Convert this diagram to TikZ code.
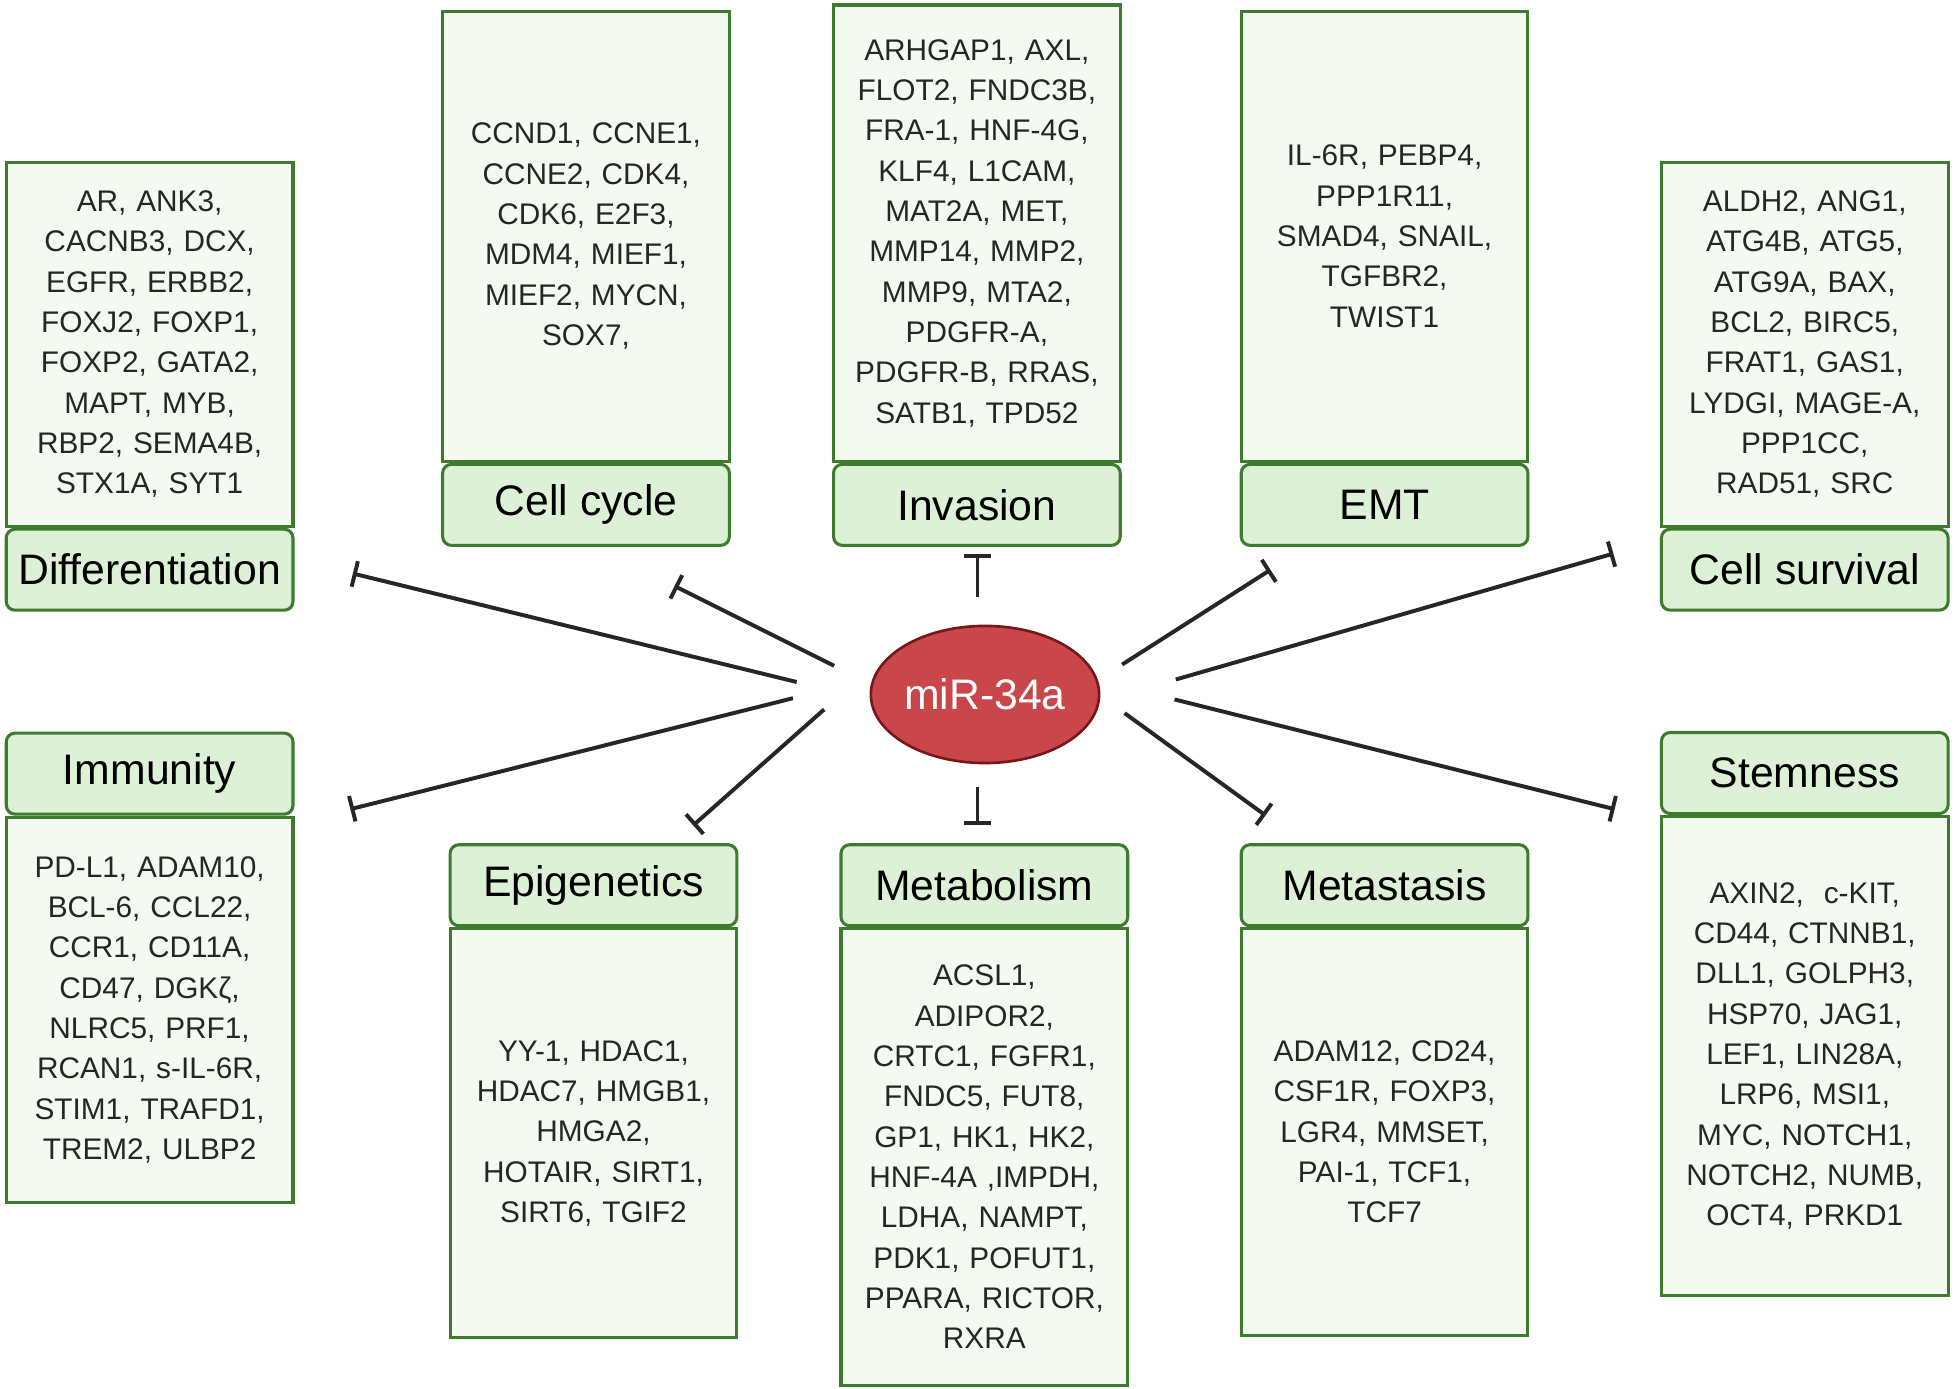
\documentclass[tikz,border=0pt]{standalone}
\usepackage{fontspec}
\setmainfont{Liberation Sans}
\usetikzlibrary{positioning,shapes.geometric,arrows.meta}

\definecolor{boxgreen}{HTML}{3E7B2F}
\definecolor{headfill}{HTML}{DDF1D6}
\definecolor{listfill}{HTML}{F4FAF2}
\definecolor{mirfill}{HTML}{C9474B}
\definecolor{mirline}{HTML}{7A1518}

\tikzset{
  listbox/.style={draw=boxgreen, fill=listfill, line width=1.4pt, minimum width=4.6cm,
    text width=4.4cm, align=center, inner sep=0pt, text=black!85, font=\fontsize{13.6}{18.4}\selectfont},
  headbox/.style={draw=boxgreen, fill=headfill, line width=1.4pt, rounded corners=4pt,
    minimum width=4.6cm, minimum height=1.3cm, inner sep=0pt, font=\fontsize{19.5}{22}\selectfont},
  inhib/.style={line width=1.8pt, draw=black!85, -{Bar[width=0.42cm,line width=1.8pt]}},
}

\begin{document}
\begin{tikzpicture}[x=0.02cm, y=-0.02cm]
    \fill[white] (0,0) rectangle (1568,1114);
    \useasboundingbox (0,0) rectangle (1568,1114);

    % top row
    \node[listbox, minimum height=5.84cm] (diffbody) at (120,276) {AR, ANK3,\\ CACNB3, DCX,\\ EGFR, ERBB2,\\ FOXJ2, FOXP1,\\ FOXP2, GATA2,\\ MAPT, MYB,\\ RBP2, SEMA4B,\\ STX1A, SYT1};
    \node[headbox, below=0pt of diffbody] (diffhead) {Differentiation};

    \node[listbox, minimum height=7.22cm] (cycbody) at (470,189.5) {CCND1, CCNE1,\\ CCNE2, CDK4,\\ CDK6, E2F3,\\ MDM4, MIEF1,\\ MIEF2, MYCN,\\ SOX7,};
    \node[headbox, below=0pt of cycbody] (cychead) {Cell cycle};

    \node[listbox, minimum height=7.32cm] (invbody) at (783.5,187) {ARHGAP1, AXL,\\ FLOT2, FNDC3B,\\ FRA-1, HNF-4G,\\ KLF4, L1CAM,\\ MAT2A, MET,\\ MMP14, MMP2,\\ MMP9, MTA2,\\ PDGFR-A,\\ PDGFR-B, RRAS,\\ SATB1, TPD52};
    \node[headbox, below=0pt of invbody] (invhead) {Invasion};

    \node[listbox, minimum height=7.22cm] (emtbody) at (1110.5,189.5) {IL-6R, PEBP4,\\ PPP1R11,\\ SMAD4, SNAIL,\\ TGFBR2,\\ TWIST1};
    \node[headbox, below=0pt of emtbody] (emthead) {EMT};

    \node[listbox, minimum height=5.84cm] (survbody) at (1447.5,276) {ALDH2, ANG1,\\ ATG4B, ATG5,\\ ATG9A, BAX,\\ BCL2, BIRC5,\\ FRAT1, GAS1,\\ LYDGI, MAGE-A,\\ PPP1CC,\\ RAD51, SRC};
    \node[headbox, below=0pt of survbody] (survhead) {Cell survival};

    % bottom row
    \node[headbox] (immhead) at (120,620.5) {Immunity};
    \node[listbox, minimum height=6.18cm, below=0pt of immhead] (immbody) {PD-L1, ADAM10,\\ BCL-6, CCL22,\\ CCR1, CD11A,\\ CD47, DGKζ,\\ NLRC5, PRF1,\\ RCAN1, s-IL-6R,\\ STIM1, TRAFD1,\\ TREM2, ULBP2};

    \node[headbox] (epihead) at (476,710) {Epigenetics};
    \node[listbox, minimum height=6.56cm, below=0pt of epihead] (epibody) {YY-1, HDAC1,\\ HDAC7, HMGB1,\\ HMGA2,\\ HOTAIR, SIRT1,\\ SIRT6, TGIF2};

    \node[headbox] (metabhead) at (789.5,710) {Metabolism};
    \node[listbox, minimum height=7.32cm, below=0pt of metabhead] (metabbody) {ACSL1,\\ ADIPOR2,\\ CRTC1, FGFR1,\\ FNDC5, FUT8,\\ GP1, HK1, HK2,\\ HNF-4A ,IMPDH,\\ LDHA, NAMPT,\\ PDK1, POFUT1,\\ PPARA, RICTOR,\\ RXRA};

    \node[headbox] (metahead) at (1110.5,710) {Metastasis};
    \node[listbox, minimum height=6.52cm, below=0pt of metahead] (metabody) {ADAM12, CD24,\\ CSF1R, FOXP3,\\ LGR4, MMSET,\\ PAI-1, TCF1,\\ TCF7};

    \node[headbox] (stemhead) at (1447.5,620) {Stemness};
    \node[listbox, minimum height=7.68cm, below=0pt of stemhead] (stembody) {AXIN2,~ c-KIT,\\ CD44, CTNNB1,\\ DLL1, GOLPH3,\\ HSP70, JAG1,\\ LEF1, LIN28A,\\ LRP6, MSI1,\\ MYC, NOTCH1,\\ NOTCH2, NUMB,\\ OCT4, PRKD1};

    % miR-34a
    \node[ellipse, draw=mirline, fill=mirfill, line width=1.2pt, inner sep=0pt, minimum width=3.64cm,
      minimum height=2.2cm, text=white, font=\fontsize{19.5}{22}\selectfont] (mir) at (790,557) {miR-34a};

    % inhibition lines
    \coordinate (s-diff) at (639,547);   \coordinate (e-diff) at (283,460);
    \coordinate (s-cyc) at (669,534);    \coordinate (e-cyc) at (541,470);
    \coordinate (s-inv) at (784,479);    \coordinate (e-inv) at (784,444);
    \coordinate (s-emt) at (900,533);    \coordinate (e-emt) at (1019,457);
    \coordinate (s-surv) at (943,545);   \coordinate (e-surv) at (1294,444);
    \coordinate (s-imm) at (636,560);    \coordinate (e-imm) at (281,649);
    \coordinate (s-epi) at (661,569);    \coordinate (e-epi) at (556,662);
    \coordinate (s-metab) at (784,631);  \coordinate (e-metab) at (784,662);
    \coordinate (s-meta) at (902,572);   \coordinate (e-meta) at (1015,654);
    \coordinate (s-stem) at (942,561);   \coordinate (e-stem) at (1295,649);

    \foreach \n in {diff,cyc,inv,emt,surv,imm,epi,metab,meta,stem} {
      \draw[inhib] (s-\n) -- (e-\n);
    }

\end{tikzpicture}
\end{document}
